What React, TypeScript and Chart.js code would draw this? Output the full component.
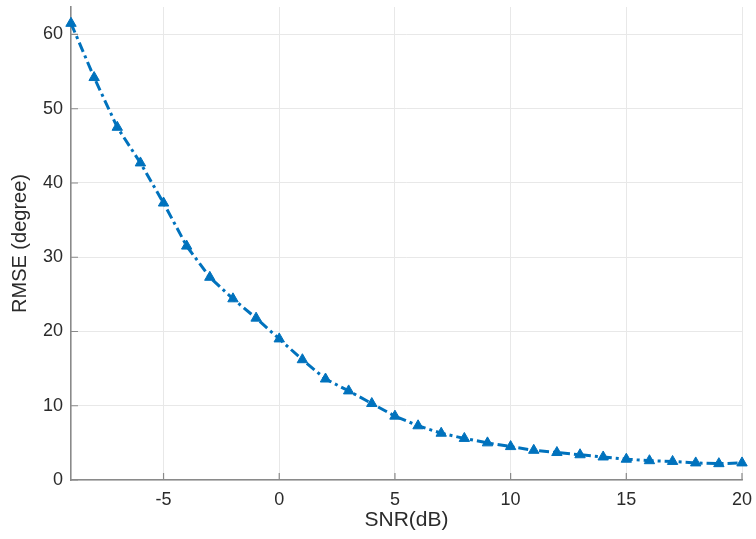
import React, { useEffect, useRef } from "react";
import { Chart, registerables } from "chart.js";

Chart.register(...registerables);

const snr = [-9, -8, -7, -6, -5, -4, -3, -2, -1, 0, 1, 2, 3, 4, 5, 6, 7, 8, 9, 10, 11, 12, 13, 14, 15, 16, 17, 18, 19, 20];
const rmse = [61.5, 54.2, 47.5, 42.7, 37.3, 31.5, 27.3, 24.4, 21.8, 19.0, 16.2, 13.6, 12.0, 10.3, 8.6, 7.3, 6.3, 5.6, 5.0, 4.5, 4.0, 3.7, 3.4, 3.1, 2.8, 2.6, 2.5, 2.3, 2.2, 2.3];
const xTicks = [-5, 0, 5, 10, 15, 20];
const yTicks = [0, 10, 20, 30, 40, 50, 60];

const AXIS = "#8a8a8a";
const GRID = "#e8e8e8";
const TEXT = "#2b2b2b";
const FONT = "'Liberation Sans', Arial, Helvetica, sans-serif";

const inwardTicks = {
  id: "inwardTicks",
  afterDatasetsDraw(chart: any) {
    const { ctx, chartArea, scales } = chart;
    ctx.save();
    ctx.strokeStyle = AXIS;
    ctx.lineWidth = 1.2;
    ctx.beginPath();
    for (const v of xTicks) {
      const px = scales.x.getPixelForValue(v);
      ctx.moveTo(px, chartArea.bottom);
      ctx.lineTo(px, chartArea.bottom - 7);
    }
    for (const v of yTicks) {
      const py = scales.y.getPixelForValue(v);
      ctx.moveTo(chartArea.left, py);
      ctx.lineTo(chartArea.left + 7, py);
    }
    ctx.stroke();
    ctx.restore();
  },
};

export default function App() {
  const ref = useRef<HTMLCanvasElement | null>(null);
  useEffect(() => {
    if (!ref.current) return;
    const chart = new Chart(ref.current, {
      type: "line",
      data: {
        datasets: [
          {
            data: snr.map((x, i) => ({ x, y: rmse[i] })),
            borderColor: "#0072BD",
            backgroundColor: "#0072BD",
            borderWidth: 3,
            borderDash: [10, 4, 3, 4],
            pointStyle: "triangle",
            pointRadius: 6,
            pointBorderWidth: 1,
            pointBackgroundColor: "#0072BD",
            pointBorderColor: "#0072BD",
            tension: 0,
            fill: false,
            clip: false,
          },
        ],
      },
      options: {
        animation: false,
        responsive: false,
        maintainAspectRatio: false,
        layout: { padding: { left: 0, right: 14, top: 7, bottom: 0 } },
        plugins: { legend: { display: false }, tooltip: { enabled: false } },
        scales: {
          x: {
            type: "linear",
            min: -9,
            max: 20,
            afterBuildTicks: (s: any) => {
              s.ticks = xTicks.map((v) => ({ value: v }));
            },
            afterFit: (s: any) => {
              s.height = 59;
              s.paddingLeft = 0;
              s.paddingRight = 0;
            },
            grid: { color: GRID, lineWidth: 1, drawTicks: false },
            border: { color: AXIS, width: 1.6 },
            ticks: {
              color: TEXT,
              font: { family: FONT, size: 18 },
              padding: 9,
              maxRotation: 0,
            },
            title: {
              display: true,
              text: "SNR(dB)",
              color: TEXT,
              font: { family: FONT, size: 21 },
              padding: { top: 2, bottom: 6 },
            },
          },
          y: {
            type: "linear",
            min: 0,
            max: 63.7,
            afterBuildTicks: (s: any) => {
              s.ticks = yTicks.map((v) => ({ value: v }));
            },
            afterFit: (s: any) => {
              s.width = 71;
              s.paddingTop = 0;
              s.paddingBottom = 0;
            },
            grid: { color: GRID, lineWidth: 1, drawTicks: false },
            border: { color: AXIS, width: 1.6 },
            ticks: {
              color: TEXT,
              font: { family: FONT, size: 18 },
              padding: 8,
            },
            title: {
              display: true,
              text: "RMSE (degree)",
              color: TEXT,
              font: { family: FONT, size: 20 },
              padding: { top: 8, bottom: 2 },
            },
          },
        },
      },
      plugins: [inwardTicks],
    });
    return () => chart.destroy();
  }, []);
  return (
    <div style={{ position: "fixed", left: 0, top: 0, width: 756, height: 539, background: "#fff" }}>
      <canvas ref={ref} width={756} height={539} style={{ width: 756, height: 539 }} />
    </div>
  );
}
